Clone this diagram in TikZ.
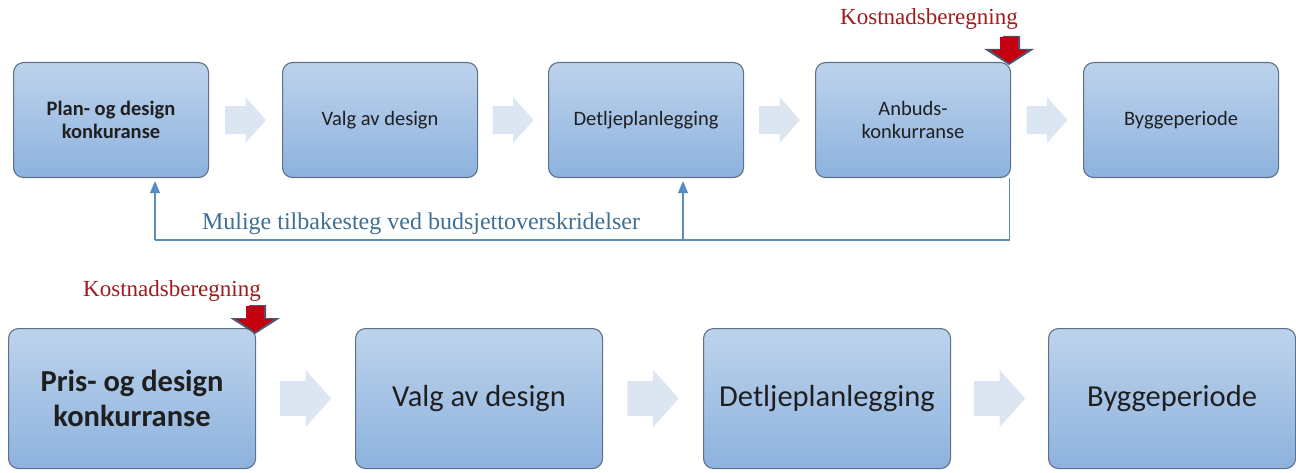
\documentclass[tikz,border=0pt]{standalone}
\usepackage{fontspec}
\setmainfont{Liberation Serif}
\newfontfamily\calib{Carlito}
\usetikzlibrary{calc,arrows.meta}
\definecolor{boxtop}{HTML}{BDD3EC}
\definecolor{boxbot}{HTML}{8DB2DE}
\definecolor{boxline}{HTML}{5E7186}
\definecolor{chevc}{HTML}{DCE6F2}
\definecolor{kostred}{HTML}{9E1B1F}
\definecolor{arrred}{HTML}{C40010}
\definecolor{arrgray}{HTML}{4A5872}
\definecolor{fbline}{HTML}{5B8DB8}
\definecolor{fbhead}{HTML}{4F8FCB}
\definecolor{fbtext}{HTML}{3F6F94}
\tikzset{
  stage/.style={rounded corners=10pt, draw=boxline, line width=1.1pt,
    top color=boxtop, bottom color=boxbot, anchor=north west,
    align=center, text=black!88, inner sep=0pt},
  small/.style={stage, minimum width=195pt, minimum height=115pt,
    font=\calib\fontsize{20.5}{23}\selectfont},
  big/.style={stage, minimum width=247pt, minimum height=140pt,
    font=\calib\fontsize{30.5}{35}\selectfont},
  chev/.pic={\fill[chevc] (-20.5,-14) -- (0,-14) -- (0,-23) -- (20.5,0) -- (0,23) -- (0,14) -- (-20.5,14) -- cycle;},
  redarrow/.pic={
    \fill[arrgray] (-6,-27) -- (11,-27) -- (11,-14) -- (25,-14) -- (0,2) -- (-25,-14) -- (-6,-14) -- cycle;
    \fill[arrred] (-9,-26) -- (9,-26) -- (9,-13) -- (19,-13) -- (0,0) -- (-19,-13) -- (-9,-13) -- cycle;},
  kost/.style={text=kostred, font=\fontsize{23}{26}\selectfont},
  fb/.style={draw=fbline, line width=1.2pt},
  fbarrow/.style={fb, -{Triangle[width=10pt,length=12pt,fill=fbhead]}}
}
\begin{document}
\begin{tikzpicture}[x=1pt,y=-1pt]
\useasboundingbox (0,0) rectangle (1296,473);
% top row
\node[small, font=\calib\bfseries\fontsize{20.5}{23}\selectfont] (t1) at (13,62) {Plan- og design\\konkuranse};
\node[small] (t2) at (282,62) {Valg av design};
\node[small] (t3) at (548,62) {Detljeplanlegging};
\node[small] (t4) at (815,62) {Anbuds-\\konkurranse};
\node[small] (t5) at (1083,62) {Byggeperiode};
\foreach \a/\b in {t1/t2,t2/t3,t3/t4,t4/t5}
  \pic at ($(\a.east)!0.5!(\b.west)$) {chev};
% cost marker top
\node[kost] (k1) at (929,19) {Kostnadsberegning};
\pic at ($(t4.north east)+(-2,1)$) {redarrow};
% feedback
\coordinate (fbstart) at ($(t4.south east)+(-2,0)$);
\coordinate (fbcorner) at (fbstart |- 0,240);
\coordinate (fbleft) at ($(t1.south west)+(142,0)$);
\coordinate (fbleftb) at (fbleft |- 0,240);
\coordinate (fbmid) at ($(t3.south west)+(135,0)$);
\coordinate (fbmidb) at (fbmid |- 0,240);
\draw[fb] (fbstart) -- (fbcorner) -- (fbleftb);
\draw[fbarrow] (fbleftb) -- ($(fbleft)+(0,3)$);
\draw[fbarrow] (fbmidb) -- ($(fbmid)+(0,3)$);
\node[text=fbtext, font=\fontsize{24}{28}\selectfont] (fbt) at (421,224) {Mulige tilbakesteg ved budsjettoverskridelser};
% bottom row
\node[big, font=\calib\bfseries\fontsize{30.5}{35}\selectfont] (b1) at (8,328) {Pris- og design\\konkurranse};
\node[big] (b2) at (355,328) {Valg av design};
\node[big] (b3) at (703,328) {Detljeplanlegging};
\node[big] (b4) at (1048,328) {Byggeperiode};
\foreach \a/\b in {b1/b2,b2/b3,b3/b4}
  \pic[scale=1.25] at ($(\a.east)!0.5!(\b.west)$) {chev};
\node[kost] (k2) at (172,291) {Kostnadsberegning};
\pic at ($(b1.north east)+(-1,4)$) {redarrow};
\end{tikzpicture}
\end{document}
